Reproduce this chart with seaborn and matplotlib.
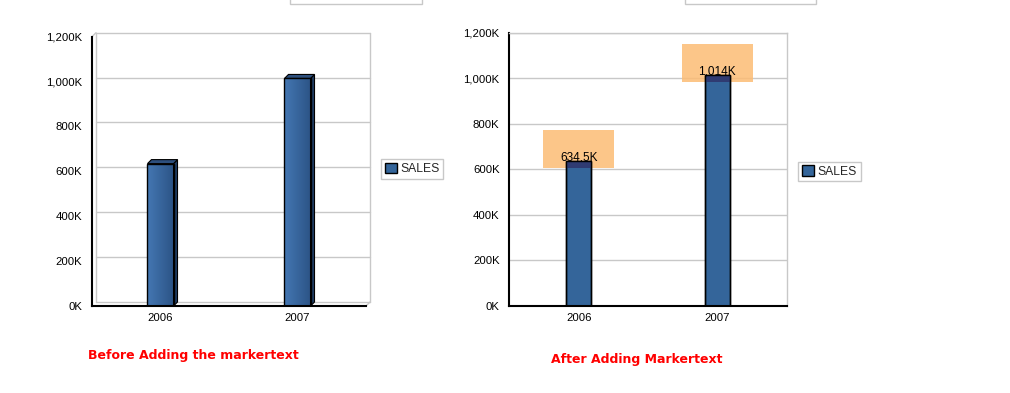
import numpy as np
import pandas as pd
import matplotlib
matplotlib.use("Agg")
import matplotlib.pyplot as plt
import seaborn as sns
from matplotlib.patches import Rectangle, Polygon, Patch
from matplotlib.ticker import FuncFormatter, FixedLocator
from matplotlib.colors import LinearSegmentedColormap
from matplotlib.transforms import ScaledTranslation

# data (sales in thousands)
years = ["2006", "2007"]
sales = [634.5, 1014.0]
bar_labels = ["634.5K", "1,014K"]
y_ticks = [0, 200, 400, 600, 800, 1000, 1200]
series_name = "SALES"
titles = ["Before Adding the markertext", "After Adding Markertext"]

df = pd.DataFrame({"year": years, "sales": sales})

sns.set_theme(style="white")
plt.rcParams["font.family"] = ["Liberation Sans", "DejaVu Sans"]

W, H = 1010, 393
fig = plt.figure(figsize=(W / 100, H / 100), dpi=100)
fig.patch.set_facecolor("white")


def px(x0, y0, x1, y1):
    # image pixel box (top-left origin) -> figure fraction rect
    return [x0 / W, 1 - y1 / H, (x1 - x0) / W, (y1 - y0) / H]


GRID = "#c8c8c8"
BLUE = "#34659a"
kfmt = FuncFormatter(lambda v, p: f"{int(v):,}K")


def base_style(ax):
    ax.set_xlim(-0.5, 1.5)
    ax.set_ylim(0, 1200)
    ax.yaxis.set_major_locator(FixedLocator(y_ticks))
    ax.yaxis.set_major_formatter(kfmt)
    ax.tick_params(axis="both", length=0, labelsize=8.2, labelcolor="black")
    ax.tick_params(axis="y", pad=7)
    ax.tick_params(axis="x", pad=5)
    ax.set_xlabel("")
    ax.set_ylabel("")
    ax.set_facecolor("none")


# ---------------- left chart: 3D style, no marker text ----------------
axL = fig.add_axes(px(92, 36.7, 366, 306))
sns.barplot(data=df, x="year", y="sales", ax=axL, width=0.19, color=BLUE,
            saturation=1, edgecolor="black", linewidth=1, errorbar=None)
base_style(axL)
for s in ["top", "right"]:
    axL.spines[s].set_visible(False)
for s in ["left", "bottom"]:
    axL.spines[s].set_color("black")
    axL.spines[s].set_linewidth(1.5)

# back wall offset (4 px right, 4 px up)
off = ScaledTranslation(4 / 100, 4 / 100, fig.dpi_scale_trans)
for v in y_ticks:
    axL.plot([0, 1], [v, v], transform=axL.get_yaxis_transform() + off,
             color=GRID, lw=1, zorder=0, clip_on=False)
for xa in [0, 1]:
    axL.plot([xa, xa], [0, 1], transform=axL.transAxes + off,
             color=GRID, lw=1, zorder=0, clip_on=False)

# depth in data units
p0 = axL.transData.transform((0, 0))
d = axL.transData.inverted().transform(p0 + np.array([4, 4]))
dx, dy = d[0], d[1]
axL.plot([1.5, 1.5 + dx], [0, dy], color=GRID, lw=1, zorder=0, clip_on=False)
axL.plot([-0.5, -0.5 + dx], [1200, 1200 + dy], color=GRID, lw=1, zorder=0, clip_on=False)

cmap_front = LinearSegmentedColormap.from_list("front", ["#4477b3", "#2c5486"])
grad = np.linspace(0, 1, 64).reshape(1, -1)
for bar in list(axL.patches):
    x0, w, h = bar.get_x(), bar.get_width(), bar.get_height()
    bar.set_facecolor("none")
    bar.set_zorder(3)
    im = axL.imshow(grad, cmap=cmap_front, extent=[x0, x0 + w, 0, h],
                    aspect="auto", zorder=2, interpolation="bilinear")
    im.set_clip_path(bar)
    side = Polygon([(x0 + w, 0), (x0 + w + dx, dy), (x0 + w + dx, h + dy), (x0 + w, h)],
                   closed=True, fc="#1f3c62", ec="black", lw=0.8, zorder=2.5, clip_on=False)
    top = Polygon([(x0, h), (x0 + dx, h + dy), (x0 + w + dx, h + dy), (x0 + w, h)],
                  closed=True, fc="#2d4f7d", ec="black", lw=0.8, zorder=2.5, clip_on=False)
    axL.add_patch(side)
    axL.add_patch(top)
axL.set_xlim(-0.5, 1.5)
axL.set_ylim(0, 1200)

# ---------------- right chart: flat, with marker text ----------------
axR = fig.add_axes(px(509.3, 32.7, 786.7, 306))
sns.barplot(data=df, x="year", y="sales", ax=axR, width=0.18, color=BLUE,
            saturation=1, edgecolor="black", linewidth=1, errorbar=None)
base_style(axR)
axR.yaxis.grid(True, color=GRID, lw=1)
axR.set_axisbelow(True)
for s in ["left", "bottom"]:
    axR.spines[s].set_color("black")
    axR.spines[s].set_linewidth(1.5)
for s in ["top", "right"]:
    axR.spines[s].set_color(GRID)
    axR.spines[s].set_linewidth(1)

box_w, box_lo, box_hi = 0.51, 30, 138
for bar, lab in zip(list(axR.patches), bar_labels):
    cx = bar.get_x() + bar.get_width() / 2
    top = bar.get_height()
    bar.set_zorder(2)
    axR.add_patch(Rectangle((cx - box_w / 2, top - box_lo), box_w, box_lo + box_hi,
                            fc="#fcbc74", alpha=0.85, ec="none", zorder=1.5))
    shade = Rectangle((cx - box_w / 2, top - box_lo), box_w, box_lo + box_hi,
                      fc="#2f3b72", ec="none", zorder=2.2)
    axR.add_patch(shade)
    shade.set_clip_path(bar)
    axR.add_patch(Rectangle((bar.get_x(), 0), bar.get_width(), top,
                            fc="none", ec="black", lw=1, zorder=2.4))
    axR.text(cx, top + 4, lab, ha="center", va="baseline", fontsize=8.5,
             color="black", zorder=4)

# legends
for lx, ly in [(381, 159), (798.3, 161.7)]:
    fig.legend(handles=[Patch(fc=BLUE, ec="black", lw=1, label=series_name)],
               loc="upper left", bbox_to_anchor=(lx / W, 1 - ly / H),
               frameon=True, fancybox=False, edgecolor=GRID, framealpha=1,
               fontsize=8.7, handlelength=1.0, handleheight=1.0,
               handletextpad=0.3, borderpad=0.3, borderaxespad=0)

# captions
for (cx, cy), t in zip([(193, 355.5), (636.5, 359)], titles):
    fig.text(cx / W, 1 - cy / H, t, ha="center", va="center", color="#ff0000",
             fontsize=9, fontweight="bold", family=["DejaVu Sans"])

# cut-off boxes at the top edge
for bx0, bx1 in [(290, 422), (685, 816)]:
    fig.patches.append(Rectangle((bx0 / W, 1 - 4 / H), (bx1 - bx0) / W, 10 / H,
                                 transform=fig.transFigure, fc="white", ec=GRID, lw=1))

fig.savefig("out.png", dpi=100)
